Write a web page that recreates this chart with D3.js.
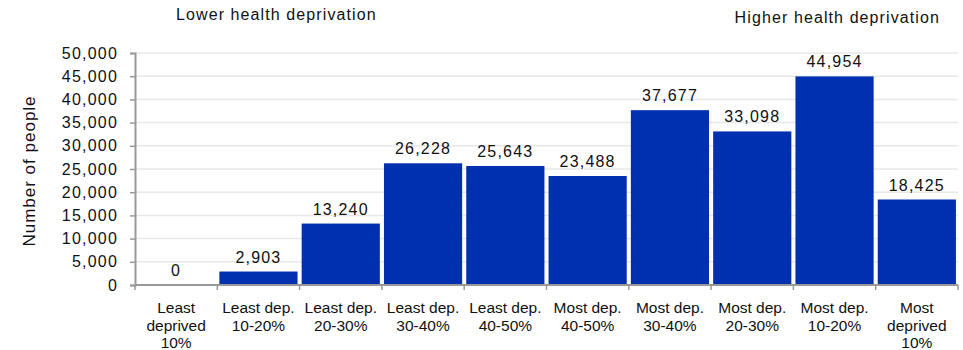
<!DOCTYPE html>
<html><head><meta charset="utf-8">
<script src="https://cdn.jsdelivr.net/npm/d3@7"></script>
<style>body{margin:0;background:#fff}svg{display:block;font-family:"Liberation Sans",Arial,sans-serif}</style>
</head><body>
<script>
const categories = ["Least\ndeprived\n10%","Least dep.\n10-20%","Least dep.\n20-30%","Least dep.\n30-40%","Least dep.\n40-50%","Most dep.\n40-50%","Most dep.\n30-40%","Most dep.\n20-30%","Most dep.\n10-20%","Most\ndeprived\n10%"];
const values = [0, 2903, 13240, 26228, 25643, 23488, 37677, 33098, 44954, 18425];
const yTicks = [0,5000,10000,15000,20000,25000,30000,35000,40000,45000,50000];
const yTitle = "Number of people";
const leftNote = "Lower health deprivation";
const rightNote = "Higher health deprivation";

const W = 963, H = 350;
const m = {left:135, right:5, top:53, bottom:65};
const svg = d3.select("body").append("svg").attr("width",W).attr("height",H);
const x = d3.scaleBand().domain(categories).range([m.left, W-m.right]).paddingInner(0.05).paddingOuter(0.025);
const y = d3.scaleLinear().domain([0,50000]).range([H-m.bottom, m.top]);
const fmt = d3.format(",");

// gridlines
svg.append("g").selectAll("line").data(yTicks.slice(1)).join("line")
  .attr("x1", m.left).attr("x2", W-m.right)
  .attr("y1", d=>y(d)).attr("y2", d=>y(d))
  .attr("stroke","#e8e8e8").attr("stroke-width",1.5);

// bars
svg.append("g").selectAll("rect").data(values).join("rect")
  .attr("x",(d,i)=>x(categories[i]))
  .attr("width",x.bandwidth())
  .attr("y",d=>y(d))
  .attr("height",d=>y(0)-y(d))
  .attr("fill","#0030AF");

// value labels
svg.append("g").selectAll("text").data(values).join("text")
  .attr("x",(d,i)=>x(categories[i])+x.bandwidth()/2)
  .attr("y",d=>y(d)-9)
  .attr("text-anchor","middle")
  .attr("font-size",16).attr("letter-spacing",1.2).attr("fill","#111")
  .text(d=>fmt(d));

// y axis
const ya = svg.append("g").attr("transform",`translate(${m.left},0)`)
  .call(d3.axisLeft(y).tickValues(yTicks).tickFormat(fmt).tickSize(5).tickPadding(12));
ya.select(".domain").attr("stroke","#999").attr("stroke-width",2);
ya.selectAll(".tick line").attr("stroke","#999").attr("stroke-width",1.5);
ya.selectAll("text").attr("font-size",16).attr("letter-spacing",1.2).attr("fill","#111").attr("font-family","Liberation Sans, Arial, sans-serif");

// x axis: ticks at band boundaries
const xa = svg.append("g");
const x0 = m.left, x1 = W-m.right;
xa.append("line").attr("x1",x0).attr("x2",x1).attr("y1",y(0)).attr("y2",y(0)).attr("stroke","#999").attr("stroke-width",2);
const bounds = d3.range(categories.length+1).map(i => x0 + (x1-x0)*i/categories.length);
xa.selectAll(".tk").data(bounds).join("line").attr("class","tk")
  .attr("x1",d=>d).attr("x2",d=>d).attr("y1",y(0)).attr("y2",y(0)+5)
  .attr("stroke","#999").attr("stroke-width",1.5);
const labs = xa.selectAll(".lab").data(categories).join("text").attr("class","lab")
  .attr("text-anchor","middle").attr("font-size",15.5).attr("fill","#111");
labs.each(function(d){
  const t = d3.select(this);
  const cx = x(d)+x.bandwidth()/2;
  d.split("\n").forEach((s,k)=>{
    t.append("tspan").attr("x",cx).attr("y",y(0)+28+k*17.5).text(s);
  });
});

// y title
svg.append("text").attr("transform","translate(35,171) rotate(-90)")
  .attr("text-anchor","middle").attr("font-size",17).attr("letter-spacing",1).attr("fill","#111").text(yTitle);

// notes
svg.append("text").attr("x",176).attr("y",20).attr("font-size",16).attr("letter-spacing",1.1).attr("fill","#111").text(leftNote);
svg.append("text").attr("x",940).attr("y",23).attr("text-anchor","end").attr("font-size",16).attr("letter-spacing",1.1).attr("fill","#111").text(rightNote);
</script>
</body></html>
